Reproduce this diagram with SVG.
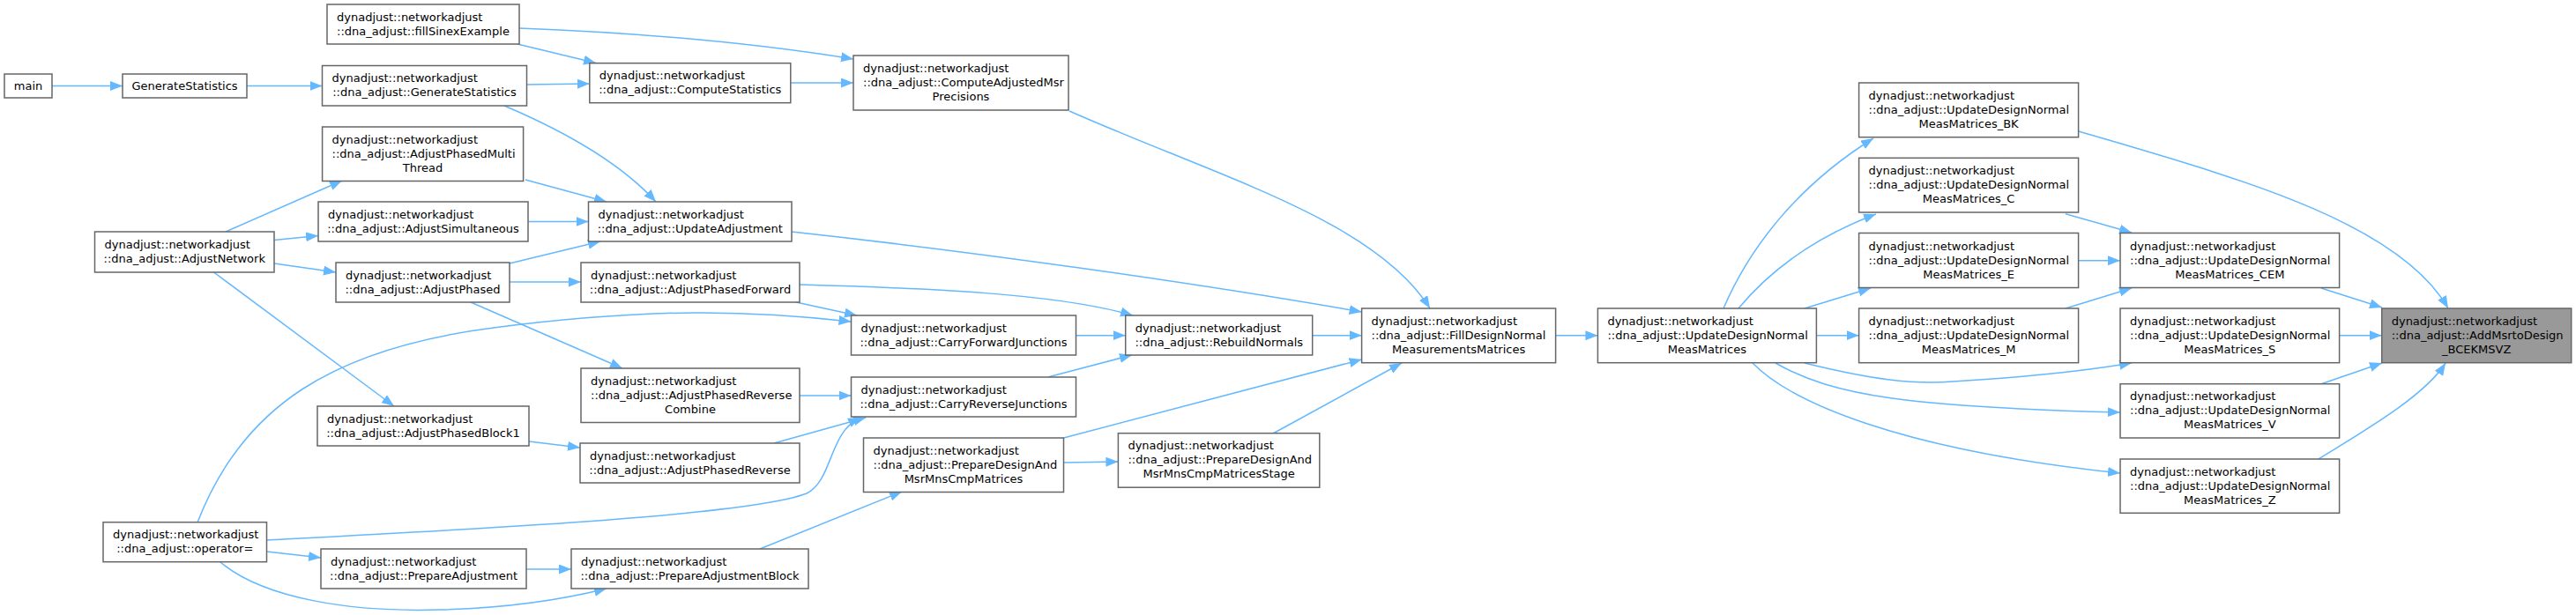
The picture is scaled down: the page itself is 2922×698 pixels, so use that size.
<svg xmlns="http://www.w3.org/2000/svg" width="2922" height="698" viewBox="0 0 2922 698">
<style>
.n rect{fill:#ffffff;stroke:#666666;stroke-width:1.5}
.n.hl rect{fill:#999999}
.n text{font-family:"DejaVu Sans",sans-serif;font-size:13px;fill:#000000}
.n text.c{text-anchor:middle}
#edges path{fill:none;stroke:#63b8ff;stroke-width:1.5;marker-end:url(#a)}
</style>
<defs>
<marker id="a" markerUnits="userSpaceOnUse" markerWidth="16" markerHeight="12" refX="14" refY="5.5" orient="auto">
<path d="M0,0 L14,5.5 L0,11 z" fill="#63b8ff" stroke="none"/>
</marker>
</defs>
<rect width="2922" height="698" fill="#ffffff"/>
<g id="edges">
<path d="M59,97.5 L139,97.5"/>
<path d="M280,97.5 L365.5,97.5"/>
<path d="M597,96 L668.8,95"/>
<path d="M572,120 Q690,170 744,229"/>
<path d="M587,50 L676,71.5"/>
<path d="M589,32 Q800,40 968,67"/>
<path d="M897,94 L968,94"/>
<path d="M1213,126 C1380,200 1560,250 1622,350"/>
<path d="M596,204 L688,229"/>
<path d="M256,263 L388,205"/>
<path d="M311,272.5 L361,267.5"/>
<path d="M311,299 L381,309"/>
<path d="M242.5,309 L447,461"/>
<path d="M599,251.5 L667.5,251.5"/>
<path d="M578,299 L681,274"/>
<path d="M578,320 L659,320"/>
<path d="M534,343 L706,418"/>
<path d="M898,263 C1100,285 1350,320 1544.6,354"/>
<path d="M907,323 C1050,327 1200,333 1285,358"/>
<path d="M903,343 L972,358"/>
<path d="M224,593 C275,460 380,395 560,372 S850,352 965.5,365"/>
<path d="M907,449 L965.5,449"/>
<path d="M600,501 L658,508"/>
<path d="M878,503 L982,474"/>
<path d="M302,613 C550,600 850,585 915,560 C945,545 940,490 976,474"/>
<path d="M302.5,626 L364,633"/>
<path d="M250,638 C300,680 400,695 500,692 C580,690 640,680 688,668"/>
<path d="M597,646 L648,646"/>
<path d="M862,623 L1023,558"/>
<path d="M1220.6,380.7 L1276.7,380.7"/>
<path d="M1188.7,428 L1284,403"/>
<path d="M1488.5,380.7 L1544.6,380.7"/>
<path d="M1206.6,497 L1544.6,408"/>
<path d="M1444,492 L1590,412"/>
<path d="M1206.6,525 L1268.4,524"/>
<path d="M1764.6,380.7 L1812.4,380.7"/>
<path d="M1955,350 C1985,280 2040,210 2125,157"/>
<path d="M1972,350 Q2030,280 2128,243"/>
<path d="M2047,350 L2122,327"/>
<path d="M2060.4,380.7 L2108.6,380.7"/>
<path d="M2047,412 C2120,430 2170,437 2215,433 C2300,428 2370,420 2418,412"/>
<path d="M2014,412 C2080,450 2170,462 2405,468"/>
<path d="M1988,412 C2030,455 2150,510 2405,537"/>
<path d="M2343,242.7 L2418,264"/>
<path d="M2357.6,295.7 L2405,295.7"/>
<path d="M2343,350 L2418,327"/>
<path d="M2633,327 L2702,349"/>
<path d="M2653.6,380.7 L2701.7,380.7"/>
<path d="M2633,435.7 L2702,412"/>
<path d="M2630,521 C2680,490 2750,450 2774,412"/>
<path d="M2358,149 C2530,200 2720,250 2777,350"/>
</g>
<g id="main" class="n"><rect x="5" y="84" width="54" height="27"/><text class="c" x="32" y="102">main</text></g>
<g id="GenerateStatistics" class="n"><rect x="139" y="84" width="141" height="27"/><text class="c" x="209.5" y="102">GenerateStatistics</text></g>
<g id="AdjustNetwork" class="n"><rect x="107.5" y="263" width="203.5" height="46"/><text x="118.5" y="282">dynadjust::networkadjust</text><text class="c" x="209.25" y="298">::dna_adjust::AdjustNetwork</text></g>
<g id="operator_eq" class="n"><rect x="117" y="592.7" width="185.5" height="45"/><text x="128" y="611.2">dynadjust::networkadjust</text><text class="c" x="209.75" y="627.2">::dna_adjust::operator=</text></g>
<g id="fillSinexExample" class="n"><rect x="371" y="5" width="218" height="45"/><text x="382" y="23.5">dynadjust::networkadjust</text><text class="c" x="480" y="39.5">::dna_adjust::fillSinexExample</text></g>
<g id="dna_GenerateStatistics" class="n"><rect x="365.5" y="74.5" width="232" height="45.5"/><text x="376.5" y="93.2">dynadjust::networkadjust</text><text class="c" x="481.5" y="109.2">::dna_adjust::GenerateStatistics</text></g>
<g id="AdjustPhasedMultiThread" class="n"><rect x="365.6" y="144" width="228" height="61.5"/><text x="376.6" y="162.7">dynadjust::networkadjust</text><text x="376.6" y="178.7">::dna_adjust::AdjustPhasedMulti</text><text class="c" x="479.6" y="194.7">Thread</text></g>
<g id="AdjustSimultaneous" class="n"><rect x="361" y="229" width="238" height="45"/><text x="372" y="247.5">dynadjust::networkadjust</text><text class="c" x="480" y="263.5">::dna_adjust::AdjustSimultaneous</text></g>
<g id="AdjustPhased" class="n"><rect x="381" y="298" width="197" height="45"/><text x="392" y="316.5">dynadjust::networkadjust</text><text class="c" x="479.5" y="332.5">::dna_adjust::AdjustPhased</text></g>
<g id="AdjustPhasedBlock1" class="n"><rect x="360" y="461" width="240" height="45"/><text x="371" y="479.5">dynadjust::networkadjust</text><text class="c" x="480" y="495.5">::dna_adjust::AdjustPhasedBlock1</text></g>
<g id="PrepareAdjustment" class="n"><rect x="364" y="623" width="233" height="45"/><text x="375" y="641.5">dynadjust::networkadjust</text><text class="c" x="480.5" y="657.5">::dna_adjust::PrepareAdjustment</text></g>
<g id="ComputeStatistics" class="n"><rect x="668.8" y="71.7" width="228" height="45"/><text x="679.8" y="90.2">dynadjust::networkadjust</text><text class="c" x="782.8" y="106.2">::dna_adjust::ComputeStatistics</text></g>
<g id="UpdateAdjustment" class="n"><rect x="667.5" y="229" width="230.5" height="45"/><text x="678.5" y="247.5">dynadjust::networkadjust</text><text class="c" x="782.75" y="263.5">::dna_adjust::UpdateAdjustment</text></g>
<g id="AdjustPhasedForward" class="n"><rect x="659" y="298" width="248" height="45"/><text x="670" y="316.5">dynadjust::networkadjust</text><text class="c" x="783" y="332.5">::dna_adjust::AdjustPhasedForward</text></g>
<g id="AdjustPhasedReverseCombine" class="n"><rect x="659" y="418" width="248" height="61.5"/><text x="670" y="436.7">dynadjust::networkadjust</text><text x="670" y="452.7">::dna_adjust::AdjustPhasedReverse</text><text class="c" x="783" y="468.7">Combine</text></g>
<g id="AdjustPhasedReverse" class="n"><rect x="658" y="503" width="249" height="45"/><text x="669" y="521.5">dynadjust::networkadjust</text><text class="c" x="782.5" y="537.5">::dna_adjust::AdjustPhasedReverse</text></g>
<g id="PrepareAdjustmentBlock" class="n"><rect x="648" y="623" width="269" height="45"/><text x="659" y="641.5">dynadjust::networkadjust</text><text class="c" x="782.5" y="657.5">::dna_adjust::PrepareAdjustmentBlock</text></g>
<g id="ComputeAdjustedMsrPrecisions" class="n"><rect x="968" y="63" width="244" height="62"/><text x="979" y="82">dynadjust::networkadjust</text><text x="979" y="98">::dna_adjust::ComputeAdjustedMsr</text><text class="c" x="1090" y="114">Precisions</text></g>
<g id="CarryForwardJunctions" class="n"><rect x="965.5" y="358" width="255" height="45"/><text x="976.5" y="376.5">dynadjust::networkadjust</text><text class="c" x="1093" y="392.5">::dna_adjust::CarryForwardJunctions</text></g>
<g id="CarryReverseJunctions" class="n"><rect x="965.5" y="428" width="255" height="45"/><text x="976.5" y="446.5">dynadjust::networkadjust</text><text class="c" x="1093" y="462.5">::dna_adjust::CarryReverseJunctions</text></g>
<g id="PrepareDesignAndMsrMnsCmpMatrices" class="n"><rect x="979.5" y="497" width="227" height="61.5"/><text x="990.5" y="515.7">dynadjust::networkadjust</text><text x="990.5" y="531.7">::dna_adjust::PrepareDesignAnd</text><text class="c" x="1093" y="547.7">MsrMnsCmpMatrices</text></g>
<g id="RebuildNormals" class="n"><rect x="1276.7" y="358" width="212" height="45"/><text x="1287.7" y="376.5">dynadjust::networkadjust</text><text class="c" x="1382.7" y="392.5">::dna_adjust::RebuildNormals</text></g>
<g id="PrepareDesignAndMsrMnsCmpMatricesStage" class="n"><rect x="1268.4" y="491.7" width="228.4" height="61.5"/><text x="1279.4" y="510.4">dynadjust::networkadjust</text><text x="1279.4" y="526.4">::dna_adjust::PrepareDesignAnd</text><text class="c" x="1382.6" y="542.4">MsrMnsCmpMatricesStage</text></g>
<g id="FillDesignNormalMeasurementsMatrices" class="n"><rect x="1544.6" y="350" width="220" height="61.7"/><text x="1555.6" y="368.8">dynadjust::networkadjust</text><text x="1555.6" y="384.8">::dna_adjust::FillDesignNormal</text><text class="c" x="1654.6" y="400.8">MeasurementsMatrices</text></g>
<g id="UpdateDesignNormalMeasMatrices" class="n"><rect x="1812.4" y="350" width="248" height="61.7"/><text x="1823.4" y="368.8">dynadjust::networkadjust</text><text x="1823.4" y="384.8">::dna_adjust::UpdateDesignNormal</text><text class="c" x="1936.4" y="400.8">MeasMatrices</text></g>
<g id="UpdateDesignNormalMeasMatrices_BK" class="n"><rect x="2108.6" y="94" width="249" height="61.7"/><text x="2119.6" y="112.8">dynadjust::networkadjust</text><text x="2119.6" y="128.8">::dna_adjust::UpdateDesignNormal</text><text class="c" x="2233.1" y="144.8">MeasMatrices_BK</text></g>
<g id="UpdateDesignNormalMeasMatrices_C" class="n"><rect x="2108.6" y="179.3" width="249" height="61.7"/><text x="2119.6" y="198.1">dynadjust::networkadjust</text><text x="2119.6" y="214.1">::dna_adjust::UpdateDesignNormal</text><text class="c" x="2233.1" y="230.1">MeasMatrices_C</text></g>
<g id="UpdateDesignNormalMeasMatrices_E" class="n"><rect x="2108.6" y="264.5" width="249" height="62"/><text x="2119.6" y="283.5">dynadjust::networkadjust</text><text x="2119.6" y="299.5">::dna_adjust::UpdateDesignNormal</text><text class="c" x="2233.1" y="315.5">MeasMatrices_E</text></g>
<g id="UpdateDesignNormalMeasMatrices_M" class="n"><rect x="2108.6" y="350" width="249" height="61.7"/><text x="2119.6" y="368.8">dynadjust::networkadjust</text><text x="2119.6" y="384.8">::dna_adjust::UpdateDesignNormal</text><text class="c" x="2233.1" y="400.8">MeasMatrices_M</text></g>
<g id="UpdateDesignNormalMeasMatrices_CEM" class="n"><rect x="2405" y="264.5" width="248.6" height="62"/><text x="2416" y="283.5">dynadjust::networkadjust</text><text x="2416" y="299.5">::dna_adjust::UpdateDesignNormal</text><text class="c" x="2529.3" y="315.5">MeasMatrices_CEM</text></g>
<g id="UpdateDesignNormalMeasMatrices_S" class="n"><rect x="2405" y="350" width="248.6" height="61.7"/><text x="2416" y="368.8">dynadjust::networkadjust</text><text x="2416" y="384.8">::dna_adjust::UpdateDesignNormal</text><text class="c" x="2529.3" y="400.8">MeasMatrices_S</text></g>
<g id="UpdateDesignNormalMeasMatrices_V" class="n"><rect x="2405" y="435.7" width="248.6" height="61.3"/><text x="2416" y="454.3">dynadjust::networkadjust</text><text x="2416" y="470.3">::dna_adjust::UpdateDesignNormal</text><text class="c" x="2529.3" y="486.3">MeasMatrices_V</text></g>
<g id="UpdateDesignNormalMeasMatrices_Z" class="n"><rect x="2405" y="521" width="248.6" height="61.3"/><text x="2416" y="539.6">dynadjust::networkadjust</text><text x="2416" y="555.6">::dna_adjust::UpdateDesignNormal</text><text class="c" x="2529.3" y="571.6">MeasMatrices_Z</text></g>
<g id="AddMsrtoDesign_BCEKMSVZ" class="n hl"><rect x="2701.7" y="350" width="215" height="61.7"/><text x="2712.7" y="368.8">dynadjust::networkadjust</text><text x="2712.7" y="384.8">::dna_adjust::AddMsrtoDesign</text><text class="c" x="2809.2" y="400.8">_BCEKMSVZ</text></g>
</svg>
